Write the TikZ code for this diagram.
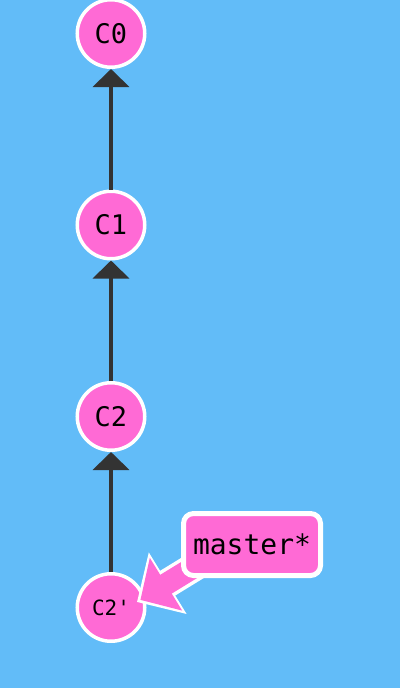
\documentclass[tikz,border=0pt]{standalone}
\usepackage{fontspec}
\setmonofont{DejaVu Sans Mono}
\usetikzlibrary{arrows.meta,calc}

\pgfdeclarelayer{fg}
\pgfsetlayers{main,fg}

\definecolor{skyblue}{HTML}{62BCF8}
\definecolor{commitpink}{HTML}{FF6AD5}
\definecolor{edgegrey}{HTML}{333333}

\tikzset{
  commit/.style={circle, fill=commitpink, draw=white, line width=3.5pt,
    minimum size=67.5pt, inner sep=0pt, font=\ttfamily\fontsize{27}{27}\selectfont},
  smallcommit/.style={commit, font=\ttfamily\fontsize{21}{21}\selectfont},
  parentedge/.style={draw=edgegrey, line width=4pt,
    -{Triangle[length=18pt,width=36pt]}},
  branchbox/.style={rectangle, rounded corners=10pt, fill=commitpink, draw=white,
    line width=5pt, minimum width=137pt, minimum height=62pt, inner sep=0pt,
    font=\ttfamily\fontsize{28}{28}\selectfont},
  pointerout/.style={white, line width=29pt, shorten >=-4pt,
    -{Triangle[length=36pt,width=70pt]}},
  pointerin/.style={commitpink, line width=22pt,
    -{Triangle[length=30pt,width=60pt]}},
}

\begin{document}
\begin{tikzpicture}[x=1pt,y=1pt,yscale=-1]
  \useasboundingbox[fill=skyblue] (0,0) rectangle (400,688);

  % Commits
  \node[commit] (c0) at (111,33.5) {C0};
  \node[commit] (c1) at (111,225) {C1};
  \node[commit] (c2) at (111,416.5) {C2};
  \node[smallcommit] (c2p) at (111,607.5) {C2'};

  % Parent edges
  \draw[parentedge] (c1) -- (c0);
  \draw[parentedge] (c2) -- (c1);
  \draw[parentedge] (c2p) -- (c2);

  % Branch label
  \begin{pgfonlayer}{fg}
    \node[branchbox] (master) at (252,544.5) {master*};
  \end{pgfonlayer}

  % Branch pointer
  \coordinate (mtail) at ($(master)+(-18,-2)$);
  \coordinate (mtip) at ($(c2p)+(29.4,-7.6)$);
  \draw[pointerout] (mtail) -- (mtip);
  \draw[pointerin] (mtail) -- (mtip);
\end{tikzpicture}
\end{document}
